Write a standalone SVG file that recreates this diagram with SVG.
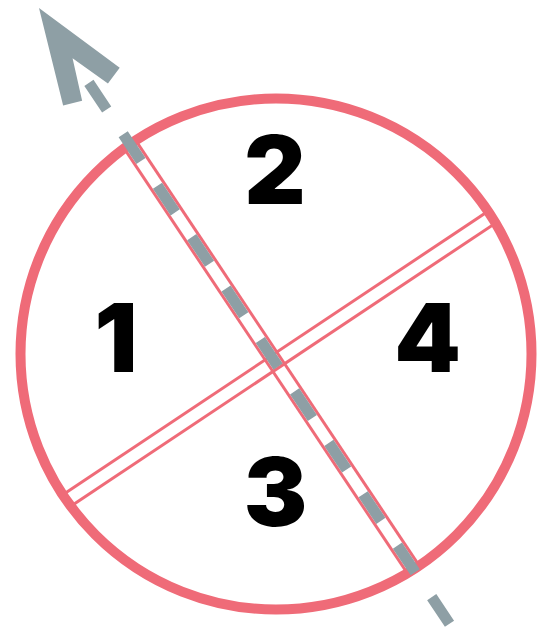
<svg xmlns="http://www.w3.org/2000/svg" width="547" height="630" viewBox="0 0 547 630">
<style>
.band{stroke:#ef6b78;stroke-width:3;fill:none}
.ring{stroke:#ef6b78;stroke-width:10;fill:none}
.dash{stroke:#8e9fa5;stroke-width:11;fill:none;stroke-dasharray:32 29.8}
.head{fill:#8e9fa5}
.num{font-family:Inter,"Liberation Sans",Arial,sans-serif;font-weight:900;font-size:95px;fill:#000;text-anchor:middle}
</style>
<defs>
<clipPath id="inside"><circle cx="276" cy="354" r="255.5"/></clipPath>
</defs>
<rect width="547" height="630" fill="#fff"/>
<g id="connectors">
<g clip-path="url(#inside)">
<g transform="translate(39,8) rotate(56.31)">
<line class="band" x1="60" y1="-7" x2="760" y2="-7"/>
<line class="band" x1="60" y1="7" x2="760" y2="7"/>
</g>
<g transform="translate(275,361.7) rotate(-33.69)">
<line class="band" x1="-320" y1="-7" x2="320" y2="-7"/>
<line class="band" x1="-320" y1="7" x2="320" y2="7"/>
</g>
</g>
</g>
<g id="circle">
<circle class="ring" cx="276" cy="354" r="255.5"/>
</g>
<g id="axis" transform="translate(39,8) rotate(56.31)">
<line class="dash" x1="90" y1="0" x2="741" y2="0"/>
<polygon class="head" points="0,0 94.5,34 101,15.5 60.5,0 101,-15.5 94.5,-34"/>
</g>
<g id="n1"><text class="num" x="116" y="372">1</text></g>
<g id="n2"><text class="num" x="275" y="204">2</text></g>
<g id="n3"><text class="num" x="275.5" y="526">3</text></g>
<g id="n4"><text class="num" x="427.5" y="372">4</text></g>
</svg>
